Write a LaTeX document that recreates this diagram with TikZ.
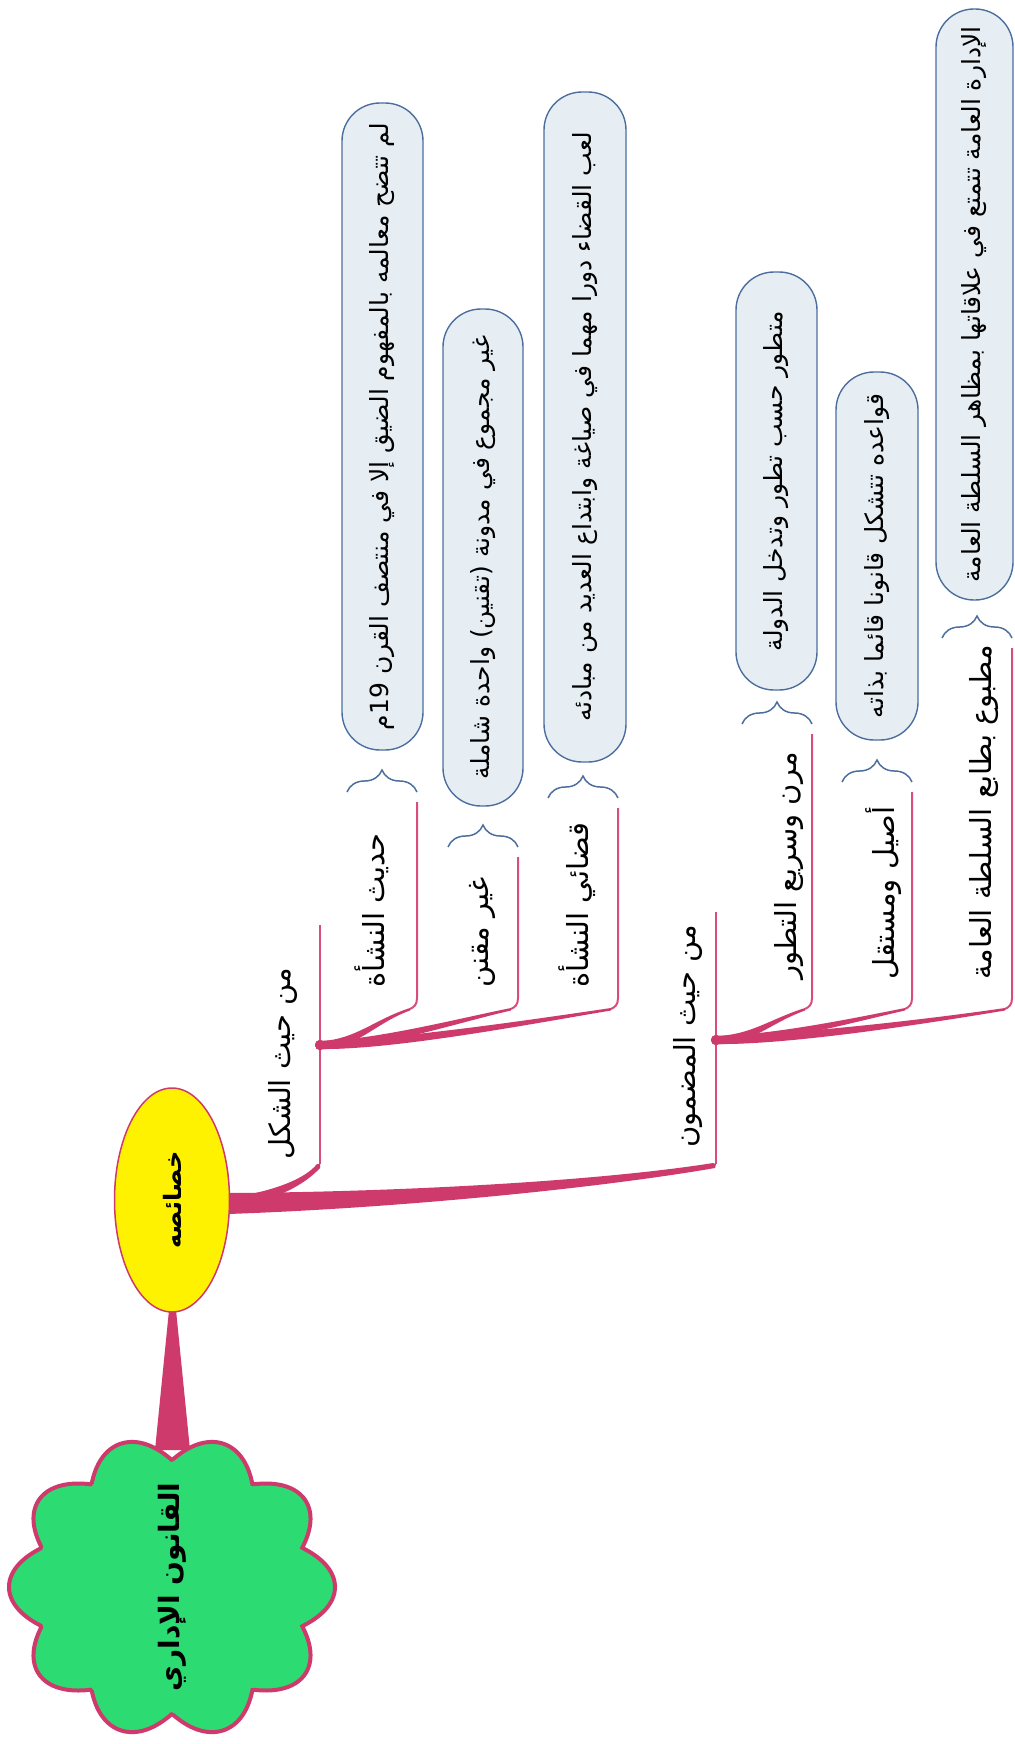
\documentclass[tikz,border=0pt]{standalone}
\usepackage{fontspec}
\usetikzlibrary{calc,shapes.geometric,decorations.pathreplacing}
\newfontfamily\arabicfont[Script=Arabic]{DejaVu Sans}
\TeXXeTstate=1
\definecolor{branch}{HTML}{CF3A6C}
\definecolor{stem}{HTML}{D94C7E}
\definecolor{leaf}{HTML}{E7EEF3}
\definecolor{leafline}{HTML}{4C6E9E}
\definecolor{rootfill}{HTML}{2CDB72}

% tapered connector from a hub to the curled foot of a child's underline
\newcommand\fanout[3]{%
  \fill[branch] ($(#1)+(0,-4)$) .. controls ($(#1)+(#3,-5)$) and ($(#2)+(-#3,10)$) .. ($(#2)+(0,-1)$)
    -- ($(#2)+(0,1.5)$) .. controls ($(#2)+(-#3,14)$) and ($(#1)+(#3,5)$) .. ($(#1)+(0,4)$) -- cycle;
  \fill[branch] (#1) circle (5);}

\begin{document}
\begin{tikzpicture}[x=1pt,y=-1pt,
  lbl/.style={rotate=90, inner sep=0pt, font=\arabicfont\fontsize{29}{33}\selectfont},
  leafbox/.style={rotate=90, draw=leafline, fill=leaf, line width=1.4pt, rounded corners=38pt,
    inner sep=0pt, font=\arabicfont\fontsize{25}{29}\selectfont},
  stemline/.style={stem, line width=2pt},
  bracket/.style={leafline, line width=1.5pt, decorate, decoration={brace, amplitude=22pt}}]
\useasboundingbox (0,0) rectangle (1014,1744);

% ---- hub and foot points ----
\coordinate (frmTop) at (320,925);
\coordinate (hubA) at (320,1045);
\coordinate (cntTop) at (716,912);
\coordinate (hubB) at (716,1040);

% ---- trunk: topic ellipse to the two main branches ----
\fill[branch] (228,1193) .. controls (400,1192) and (600,1181) .. (713,1163)
  -- (716,1164) -- (715,1168) .. controls (600,1188) and (400,1208) .. (228,1214) -- cycle;
\fill[branch] (240,1196) .. controls (275,1190) and (305,1179) .. (317,1164)
  -- (320,1164) -- (320,1168) .. controls (305,1184) and (282,1196) .. (255,1202) -- cycle;
\draw[stemline] (frmTop) -- (320,1164);
\draw[stemline] (cntTop) -- (716,1164);

% ---- wedge from the root to the topic ----
\fill[branch] (170,1300) -- (175,1300) -- (190,1450) -- (155,1450) -- cycle;

% ---- children stems ----
\foreach \nm/\x/\t in {a1/417/802, a2/518/857, a3/618/808, b1/812/734, b2/912/792, b3/1012/648}{
  \coordinate (\nm top) at (\x,\t);
  \coordinate (\nm foot) at (\x-7,1009);
  \draw[stemline] (\nm top) -- (\x,998) .. controls (\x,1005) and (\x-3,1007) .. (\nm foot);
  \draw[bracket] (\x-70,\t-10) -- (\x,\t-10);
}
\fanout{hubA}{a1foot}{35}
\fanout{hubA}{a2foot}{55}
\fanout{hubA}{a3foot}{75}
\fanout{hubB}{b1foot}{35}
\fanout{hubB}{b2foot}{55}
\fanout{hubB}{b3foot}{75}

% ---- root cloud ----
\draw[branch, line width=4pt, fill=rootfill]
  plot[samples=400, domain=0:360, variable=\t]
  ({172+163*(0.84+0.16*abs(cos(5*\t)))*cos(\t)}, {1587+151*(0.84+0.16*abs(cos(5*\t)))*sin(\t)}) -- cycle;
\node[rotate=90, inner sep=0pt, font=\arabicfont\bfseries\fontsize{28}{32}\selectfont] (root) at (172,1587)
  {\beginR القانون الإداري\endR};

% ---- topic ----
\node[rotate=90, ellipse, draw=branch, line width=1.5pt, fill=yellow, minimum width=224pt, minimum height=115pt,
  inner sep=0pt, font=\arabicfont\bfseries\fontsize{24}{28}\selectfont] (topic) at (172,1200)
  {\beginR خصائصه\endR};

% ---- main branches ----
\node[lbl, anchor=west] (frm) at (283,1160) {\beginR من حيث الشكل\endR};
\node[lbl, anchor=west] (cnt) at (688,1148) {\beginR من حيث المضمون\endR};

% ---- second level ----
\node[lbl, anchor=west] (a1) at (372,988) {\beginR حديث النشأة\endR};
\node[lbl, anchor=west] (a2) at (482,988) {\beginR غير مقنن\endR};
\node[lbl, anchor=west] (a3) at (577,988) {\beginR قضائي النشأة\endR};
\node[lbl, anchor=west] (b1) at (789,980) {\beginR مرن وسريع التطور\endR};
\node[lbl, anchor=west] (b2) at (884,980) {\beginR أصيل ومستقل\endR};
\node[lbl, anchor=west] (b3) at (984,980) {\beginR مطبوع بطابع السلطة العامة\endR};

% ---- explanation boxes ----
\node[leafbox, minimum width=647pt, minimum height=81pt] (n1) at (382.5,426.5)
  {\beginR لم تتضح معالمه بالمفهوم الضيق إلا في منتصف القرن \beginL19\endL{}م\endR};
\node[leafbox, minimum width=497pt, minimum height=80pt] (n2) at (483,557.5)
  {\beginR غير مجموع في مدونة (تقنين) واحدة شاملة\endR};
\node[leafbox, minimum width=670pt, minimum height=82pt] (n3) at (585,427)
  {\beginR لعب القضاء دورا مهما في صياغة وابتداع العديد من مبادئه\endR};
\node[leafbox, minimum width=418pt, minimum height=81pt] (n4) at (776.5,481)
  {\beginR متطور حسب تطور وتدخل الدولة\endR};
\node[leafbox, minimum width=368pt, minimum height=82pt] (n5) at (877,556)
  {\beginR قواعده تتشكل قانونا قائما بذاته\endR};
\node[leafbox, minimum width=591pt, minimum height=77pt] (n6) at (974.5,304.5)
  {\beginR الإدارة العامة تتمتع في علاقاتها بمظاهر السلطة العامة\endR};
\end{tikzpicture}
\end{document}
